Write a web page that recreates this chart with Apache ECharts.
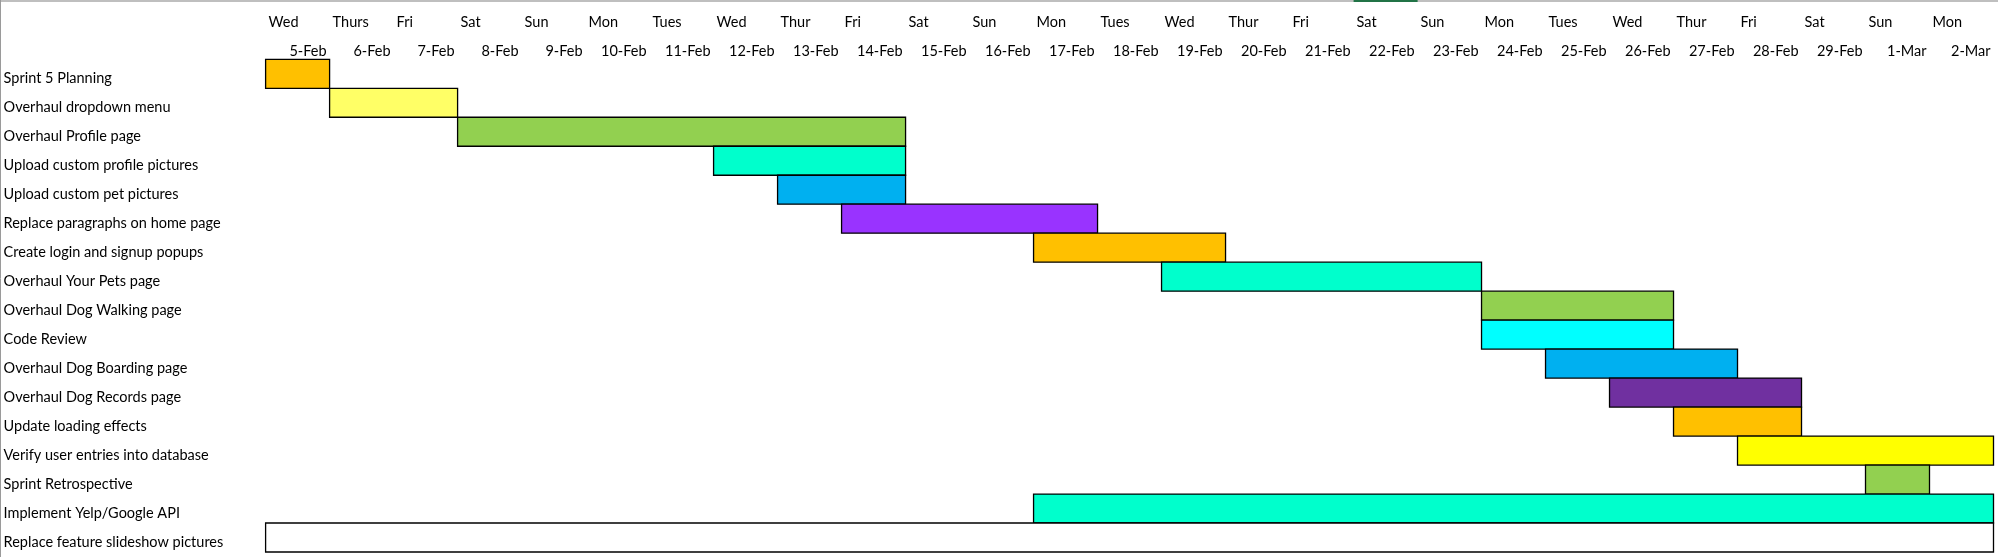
<!DOCTYPE html>
<html>
<head>
<meta charset="utf-8">
<script src="https://cdn.jsdelivr.net/npm/echarts@6/dist/echarts.min.js"></script>
<style>
html,body{margin:0;padding:0;background:#fff;}
#chart{width:1998px;height:557px;}
</style>
</head>
<body>
<div id="chart"></div>
<script>
// ---- data ----
const dayNames = ['Wed','Thurs','Fri','Sat','Sun','Mon','Tues','Wed','Thur','Fri','Sat','Sun','Mon','Tues','Wed','Thur','Fri','Sat','Sun','Mon','Tues','Wed','Thur','Fri','Sat','Sun','Mon'];
const dateLabels = ['5-Feb','6-Feb','7-Feb','8-Feb','9-Feb','10-Feb','11-Feb','12-Feb','13-Feb','14-Feb','15-Feb','16-Feb','17-Feb','18-Feb','19-Feb','20-Feb','21-Feb','22-Feb','23-Feb','24-Feb','25-Feb','26-Feb','27-Feb','28-Feb','29-Feb','1-Mar','2-Mar'];
const tasks = ['Sprint 5 Planning','Overhaul dropdown menu','Overhaul Profile page','Upload custom profile pictures','Upload custom pet pictures','Replace paragraphs on home page','Create login and signup popups','Overhaul Your Pets page','Overhaul Dog Walking page','Code Review','Overhaul Dog Boarding page','Overhaul Dog Records page','Update loading effects','Verify user entries into database','Sprint Retrospective','Implement Yelp/Google API','Replace feature slideshow pictures'];
// start column (days after 5-Feb) and duration in days
const taskStart = [0,1,3,7,8,9,12,14,19,19,20,21,22,23,25,12,0];
const taskDays  = [1,2,7,3,2,4,3,5,3,3,3,3,2,4,1,15,27];
// ---- styles ----
const taskColors = ['#FFC000','#FFFF66','#92D050','#00FFCC','#00B0F0','#9933FF','#FFC000','#00FFCC','#92D050','#00FFFF','#00B0F0','#7030A0','#FFC000','#FFFF00','#92D050','#00FFCC','#FFFFFF'];

const FONT = 'Lato, Carlito, "Liberation Sans", sans-serif';
const chart = echarts.init(document.getElementById('chart'), null, {renderer:'canvas'});

const seriesData = tasks.map((t,i)=>[taskStart[i], taskStart[i]+taskDays[i], i]);

chart.setOption({
  animation:false,
  backgroundColor:'#ffffff',
  grid:{left:265.6, right:4.5, top:59.3, height:492.7, containLabel:false},
  xAxis:[
    {type:'value', position:'top', min:0, max:dayNames.length, interval:1,
     axisLine:{show:false}, axisTick:{show:false}, splitLine:{show:false},
     axisLabel:{show:true, margin:37, align:'left', verticalAlign:'middle', padding:[0,0,0,3],
       color:'#000', fontFamily:FONT, fontSize:14.5,
       formatter:v=>dayNames[v]||''}},
    {type:'value', position:'top', min:0, max:dateLabels.length, interval:1,
     axisLine:{show:false}, axisTick:{show:false}, splitLine:{show:false},
     axisLabel:{show:true, margin:8, align:'right', verticalAlign:'middle', padding:[0,3,0,0],
       color:'#000', fontFamily:FONT, fontSize:14.5,
       formatter:v=>(v>0?dateLabels[v-1]:'')}}
  ],
  yAxis:{type:'category', data:tasks, inverse:true,
    axisLine:{show:false}, axisTick:{show:false}, splitLine:{show:false},
    axisLabel:{margin:262, align:'left', verticalAlign:'middle',
      formatter:v=>'{t|'+v+'}',
      rich:{t:{color:'#000', fontFamily:FONT, fontSize:14.5, padding:[10,0,0,0]}}}},
  series:[{
    type:'custom', xAxisIndex:0,
    encode:{x:[0,1], y:2},
    data:seriesData,
    renderItem:(params, api)=>{
      const s = api.coord([api.value(0), api.value(2)]);
      const e = api.coord([api.value(1), api.value(2)]);
      const h = api.size([0,1])[1];
      const idx = params.dataIndex;
      return {type:'rect',
        shape:{x:s[0], y:s[1]-h/2, width:e[0]-s[0], height:h},
        style:{fill:taskColors[idx], stroke:'#000', lineWidth:1.3}};
    }
  }],
  graphic:[
    {type:'line', shape:{x1:0,y1:1,x2:1998,y2:1}, style:{stroke:'#bfbfbf', lineWidth:2}, z:100},
    {type:'rect', shape:{x:1353.6,y:0,width:64,height:2}, style:{fill:'#217346'}, z:101},
    {type:'line', shape:{x1:0.5,y1:0,x2:0.5,y2:557}, style:{stroke:'#9a9a9a', lineWidth:1}, z:100}
  ]
});
</script>
</body>
</html>
